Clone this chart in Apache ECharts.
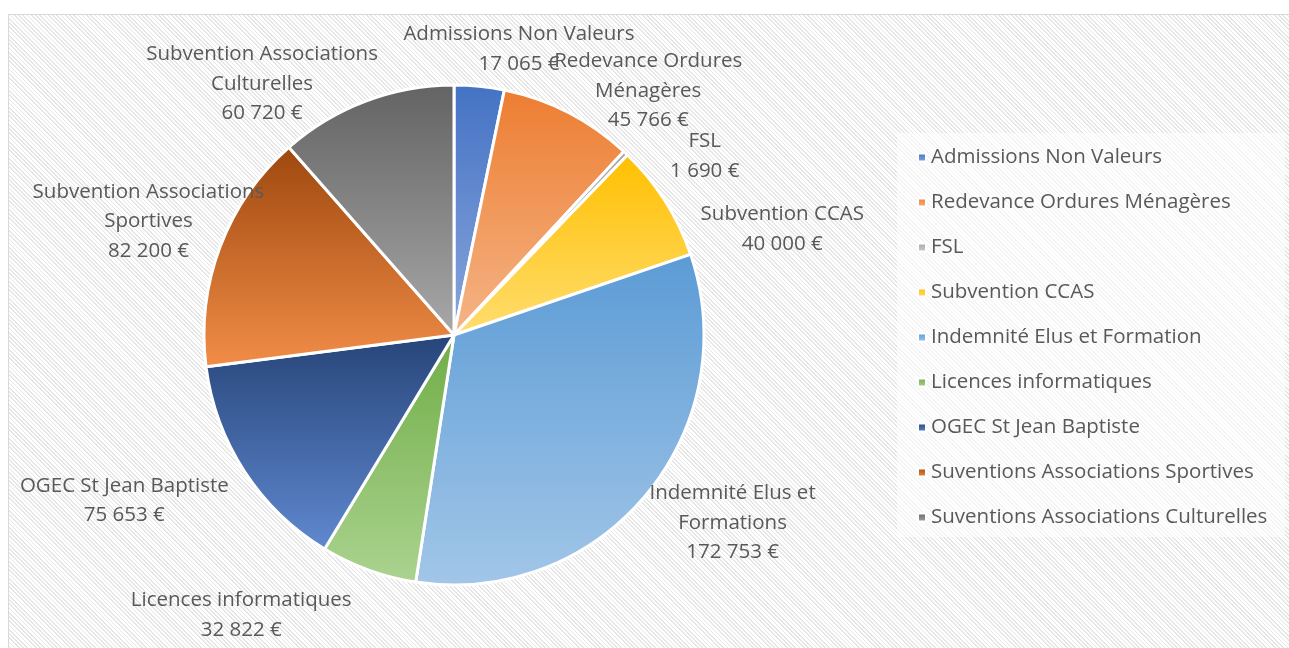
<!DOCTYPE html>
<html>
<head>
<meta charset="utf-8">
<script src="https://cdn.jsdelivr.net/npm/echarts@6/dist/echarts.min.js"></script>
<style>
  html, body { margin: 0; padding: 0; background: #fff; }
  #frame {
    position: absolute; left: 8px; top: 14px; width: 1300px; height: 660px;
    border: 1px solid #d9d9d9;
    background: repeating-linear-gradient(45deg, #ffffff 0 1.8px, #e6e6e6 1.8px 3px);
  }
  #chart { position: absolute; left: 0; top: 0; width: 1289px; height: 648px; }
</style>
</head>
<body>
<div id="frame"></div>
<div id="chart"></div>
<script>
// legend names (as in the legend)
const categories = [
  'Admissions Non Valeurs',
  'Redevance Ordures Ménagères',
  'FSL',
  'Subvention CCAS',
  'Indemnité Elus et Formation',
  'Licences informatiques',
  'OGEC St Jean Baptiste',
  'Suventions Associations Sportives',
  'Suventions Associations Culturelles'
]
// names as written in the data labels
const labelNames = [
  'Admissions Non Valeurs',
  'Redevance Ordures\nMénagères',
  'FSL',
  'Subvention CCAS',
  'Indemnité Elus et\nFormations',
  'Licences informatiques',
  'OGEC St Jean Baptiste',
  'Subvention Associations\nSportives',
  'Subvention Associations\nCulturelles'
]
const amounts = [17065, 45766, 1690, 40000, 172753, 32822, 75653, 82200, 60720]

// gradient colours, top -> bottom
const colorTop = ['#4472c4', '#ed7d31', '#a5a5a5', '#ffc000', '#5b9bd5', '#70ad47', '#264478', '#9e480e', '#636363']
const colorBottom = ['#8aa6dc', '#f5b587', '#cfcfcf', '#ffdd70', '#a2c6e8', '#abd390', '#6089d0', '#f28d48', '#a8a8a8']

// label placement around the pie: [angle from 12 o'clock in degrees, distance from centre]
const labelPolar = [
  [12.8, 293], [38.5, 312], [54.5, 308], [72.1, 345], [124.0, 336],
  [217.2, 352], [243.3, 369], [290.4, 326], [322.6, 316]
]

const cx = 454, cy = 335, R = 250

function fmtEuro(v) {
  return String(v).replace(/\B(?=(\d{3})+(?!\d))/g, ' ') + ' €'
}

const chart = echarts.init(document.getElementById('chart'))

chart.setOption({
  textStyle: { fontFamily: 'Open Sans', color: '#595959' },
  graphic: [{
    type: 'rect',
    shape: { x: 897, y: 133, width: 388, height: 404 },
    style: { fill: 'rgba(255,255,255,0.55)' },
    z: -1
  }],
  legend: {
    orient: 'vertical',
    left: 912,
    top: 142,
    icon: 'rect',
    itemWidth: 8,
    itemHeight: 8,
    itemGap: 24,
    textStyle: { fontSize: 20.5, color: '#595959', lineHeight: 20, fontFamily: 'Open Sans' },
    data: categories
  },
  series: [{
    type: 'pie',
    center: [cx, cy],
    radius: R,
    startAngle: 90,
    clockwise: true,
    animation: false,
    itemStyle: { borderColor: '#fff', borderWidth: 3 },
    label: {
      show: true,
      position: 'outside',
      fontSize: 20.5,
      lineHeight: 29.5,
      color: '#595959',
      fontFamily: 'Open Sans',
      overflow: 'none',
      formatter: p => labelNames[p.dataIndex] + '\n' + fmtEuro(p.value)
    },
    labelLine: { show: false },
    labelLayout: function (params) {
      const pl = labelPolar[params.dataIndex]
      const a = pl[0] * Math.PI / 180
      return {
        x: cx + pl[1] * Math.sin(a),
        y: cy - pl[1] * Math.cos(a),
        align: 'center',
        verticalAlign: 'middle'
      }
    },
    data: categories.map((name, i) => ({
      name: name,
      value: amounts[i],
      itemStyle: {
        color: new echarts.graphic.LinearGradient(0, 0, 0, 1, [
          { offset: 0, color: colorTop[i] },
          { offset: 1, color: colorBottom[i] }
        ])
      }
    }))
  }]
})
</script>
</body>
</html>
